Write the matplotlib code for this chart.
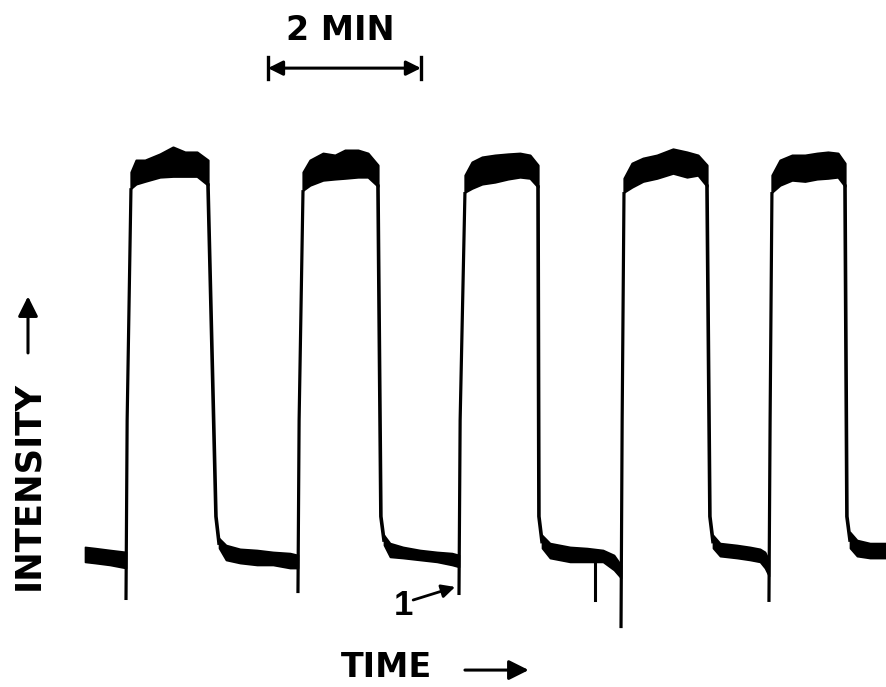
import numpy as np
import matplotlib
matplotlib.use('Agg')
import matplotlib.pyplot as plt

# Intensity trace of the periodically switched source
# time in minutes, intensity in arbitrary units (baseline ~ 0, plateau ~ 1)

# switch-on times and the short negative dip at each switch-on
t_on = [0.536, 2.784, 4.889, 7.007, 8.941]
dip_on = [-0.117, -0.099, -0.104, -0.190, -0.122]

# plateau envelopes (upper and lower edge of the noisy band)
top_t = [
    [0.601, 0.667, 0.784, 0.980, 1.150, 1.307, 1.464, 1.608],
    [2.850, 2.941, 3.111, 3.268, 3.399, 3.569, 3.699, 3.830],
    [4.967, 5.059, 5.190, 5.359, 5.529, 5.686, 5.817, 5.922],
    [7.046, 7.150, 7.294, 7.477, 7.686, 7.869, 8.013, 8.131],
    [8.980, 9.085, 9.242, 9.412, 9.569, 9.712, 9.843, 9.935],
]
top_hi = [
    [0.995, 1.026, 1.026, 1.042, 1.060, 1.047, 1.047, 1.026],
    [0.995, 1.026, 1.044, 1.039, 1.052, 1.052, 1.044, 1.013],
    [0.987, 1.021, 1.034, 1.039, 1.042, 1.044, 1.039, 1.013],
    [0.979, 1.018, 1.031, 1.039, 1.055, 1.047, 1.039, 1.013],
    [0.987, 1.026, 1.039, 1.039, 1.044, 1.047, 1.044, 1.018],
]
top_lo = [
    [0.953, 0.964, 0.971, 0.982, 0.984, 0.984, 0.984, 0.961],
    [0.948, 0.961, 0.974, 0.977, 0.979, 0.982, 0.982, 0.958],
    [0.943, 0.953, 0.964, 0.969, 0.977, 0.982, 0.979, 0.956],
    [0.943, 0.956, 0.971, 0.979, 0.992, 0.982, 0.987, 0.958],
    [0.943, 0.961, 0.974, 0.971, 0.977, 0.979, 0.982, 0.958],
]

# baseline envelopes: before the first pulse and after each switch-off
base_t = [
    [0.000, 0.131, 0.327, 0.536],
    [1.752, 1.843, 2.026, 2.248, 2.458, 2.680, 2.784],
    [3.908, 3.987, 4.157, 4.379, 4.601, 4.797, 4.889],
    [5.974, 6.078, 6.340, 6.562, 6.771, 6.915, 7.007],
    [8.209, 8.301, 8.523, 8.693, 8.824, 8.889, 8.941],
    [10.000, 10.092, 10.261, 10.471],
]
base_hi = [
    [0.021, 0.018, 0.013, 0.008],
    [0.044, 0.026, 0.016, 0.013, 0.008, 0.005, 0.000],
    [0.052, 0.031, 0.021, 0.013, 0.008, 0.005, 0.000],
    [0.052, 0.031, 0.021, 0.018, 0.013, 0.000, -0.026],
    [0.052, 0.031, 0.026, 0.021, 0.016, 0.008, -0.013],
    [0.060, 0.039, 0.031, 0.031],
]
base_lo = [
    [-0.018, -0.021, -0.026, -0.034],
    [0.018, -0.013, -0.021, -0.026, -0.026, -0.034, -0.034],
    [0.026, -0.005, -0.008, -0.013, -0.018, -0.026, -0.031],
    [0.018, -0.008, -0.018, -0.018, -0.018, -0.039, -0.060],
    [0.018, -0.003, -0.008, -0.013, -0.018, -0.034, -0.055],
    [0.018, -0.003, -0.008, -0.008],
]

# single glitch on the baseline between pulse 3 and 4
glitch_t = 6.667
glitch_lo = -0.117

# scale bar
bar_start = 2.392
bar_len = 2.0

fig = plt.figure(figsize=(8.86, 6.87), dpi=100)
ax = fig.add_axes([0, 0, 1, 1])
ax.set_xlim(-1.111, 10.471)
ax.set_ylim(-0.343, 1.442)
ax.axis('off')

ink = 'black'

# noisy plateau bands
for t, hi, lo in zip(top_t, top_hi, top_lo):
    ax.fill_between(t, lo, hi, color=ink, lw=1.6, edgecolor=ink)

# noisy baseline bands
for t, hi, lo in zip(base_t, base_hi, base_lo):
    ax.fill_between(t, lo, hi, color=ink, lw=1.2, edgecolor=ink)

# switch-on edges, including the dip below the baseline
for i in range(len(t_on)):
    ax.plot([t_on[i], t_on[i] + 0.015, top_t[i][0]],
            [dip_on[i], 0.35, top_lo[i][0]], color=ink, lw=2.3,
            solid_capstyle='butt')

# switch-off edges, from the end of each plateau to the following baseline
for i in range(len(top_t)):
    nxt = base_t[i + 1]
    mid = 0.5 * (base_hi[i + 1][0] + base_lo[i + 1][0])
    ax.plot([top_t[i][-1], nxt[0] - 0.04, nxt[0]],
            [top_lo[i][-1], 0.10, mid], color=ink, lw=2.6)

# glitch
ax.plot([glitch_t, glitch_t], [base_lo[3][3], glitch_lo], color=ink, lw=2.2)

font = dict(family='DejaVu Sans', weight='bold', color=ink)

# 2 min scale bar
ax.annotate('', xy=(bar_start, 1.265), xytext=(bar_start + bar_len, 1.265),
            arrowprops=dict(arrowstyle='<|-|>', color=ink, lw=2.2,
                            mutation_scale=22, shrinkA=0, shrinkB=0))
for x in [bar_start, bar_start + bar_len]:
    ax.plot([x, x], [1.236, 1.293], color=ink, lw=2.4)
ax.text(bar_start + bar_len / 2 - 0.05, 1.362, '2 MIN', ha='center', va='center',
        fontsize=24, **font)

# axis labels with arrows
ax.text(-0.745, 0.18, 'INTENSITY', rotation=90, ha='center', va='center',
        fontsize=25.5, **font)
ax.annotate('', xy=(-0.745, 0.672), xytext=(-0.745, 0.525),
            arrowprops=dict(arrowstyle='-|>', color=ink, lw=2.2,
                            mutation_scale=30, shrinkA=0, shrinkB=0))
ax.text(3.935, -0.292, 'TIME', ha='center', va='center', fontsize=24, **font)
ax.annotate('', xy=(5.80, -0.299), xytext=(4.967, -0.299),
            arrowprops=dict(arrowstyle='-|>', color=ink, lw=2.2,
                            mutation_scale=30, shrinkA=0, shrinkB=0))

# marker 1 pointing at the third switch-on
ax.text(4.157, -0.132, '1', ha='center', va='center', fontsize=25,
        family='Liberation Sans', weight='bold', color=ink)
ax.annotate('', xy=(t_on[2] - 0.05, -0.083), xytext=(4.29, -0.117),
            arrowprops=dict(arrowstyle='-|>', color=ink, lw=2.0,
                            mutation_scale=20, shrinkA=0, shrinkB=0))

plt.savefig('out.png', dpi=100)
